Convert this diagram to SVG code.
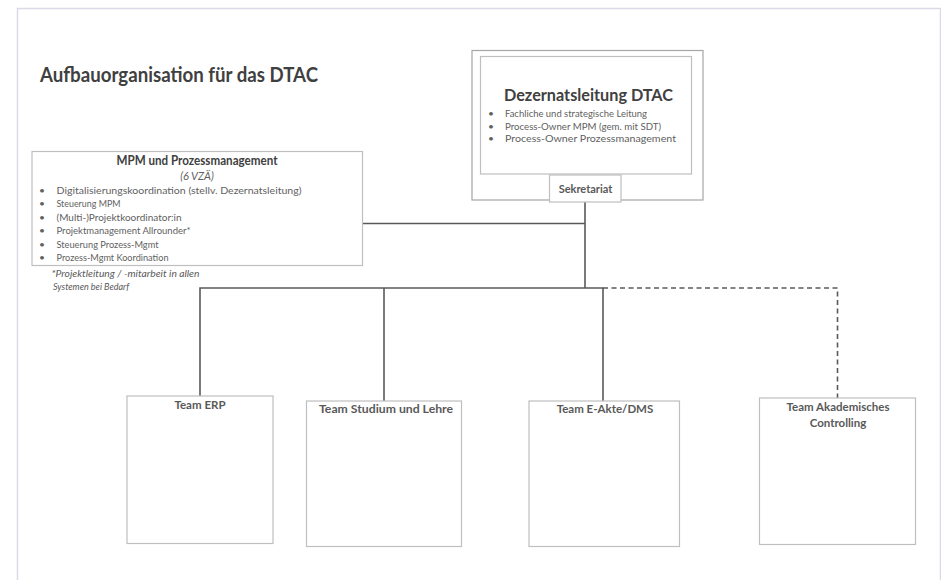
<svg xmlns="http://www.w3.org/2000/svg" width="941" height="580" viewBox="0 0 941 580">
<style>
.frame{fill:none;stroke:#d9dce8;stroke-width:1.5}
.box{fill:#fff;stroke:#bfbfbf;stroke-width:1.2}
.obox{fill:#fff;stroke:#a6a6a6;stroke-width:1.2}
.conn{fill:none;stroke:#595959;stroke-width:1.6}
.dash{stroke-dasharray:5 3.5}
text{font-family:Lato,"Open Sans","Liberation Sans",sans-serif}
.title{font-size:20px;font-weight:bold;fill:#404040}
.h1{font-size:17px;font-weight:bold;fill:#404040}
.hb{font-size:12.5px;font-weight:bold;fill:#404040}
.lbl{font-size:11.5px;font-weight:bold;fill:#595959}
.bul{font-size:10.3px;fill:#5f5f5f}
.it{font-style:italic}
.note{font-size:9px;font-style:italic;fill:#595959}
</style>
<rect width="941" height="580" fill="#fff"/>
<path class="frame" d="M17.5,595 V8.5 H940.5 V595"/>
<text class="title" x="40" y="82" textLength="278" lengthAdjust="spacingAndGlyphs">Aufbauorganisation für das DTAC</text>

<g id="connectors">
<path class="conn" d="M585,202 V288"/>
<path class="conn" d="M362,223.5 H585"/>
<path class="conn" d="M200,396 V288 H603 V401"/>
<path class="conn" d="M384,288 V401"/>
<path class="conn dash" d="M603,288 H837.5 V398"/>
</g>

<g id="dezernatsleitung">
<rect class="obox" x="472" y="50.5" width="231" height="149.5"/>
<rect class="box" x="480.5" y="56.5" width="211" height="117.5"/>
<text class="h1" x="504" y="101" textLength="169" lengthAdjust="spacingAndGlyphs">Dezernatsleitung DTAC</text>
<g class="bul">
<text x="488" y="117">•</text><text x="505" y="117" textLength="142" lengthAdjust="spacingAndGlyphs">Fachliche und strategische Leitung</text>
<text x="488" y="129.5">•</text><text x="505" y="129.5" textLength="156" lengthAdjust="spacingAndGlyphs">Process-Owner MPM (gem. mit SDT)</text>
<text x="488" y="142">•</text><text x="505" y="142" textLength="171" lengthAdjust="spacingAndGlyphs">Process-Owner Prozessmanagement</text>
</g>
</g>

<g id="sekretariat">
<rect class="box" x="549.5" y="175" width="71.5" height="27"/>
<text class="lbl" x="585.5" y="193" text-anchor="middle" style="font-size:11px">Sekretariat</text>
</g>

<g id="mpm">
<rect class="box" x="32" y="151.5" width="330.5" height="114"/>
<text class="hb" x="197" y="164.5" text-anchor="middle" textLength="161" lengthAdjust="spacingAndGlyphs">MPM und Prozessmanagement</text>
<text class="bul it" x="197" y="180" text-anchor="middle" style="font-size:11px">(6 VZÄ)</text>
<g class="bul">
<text x="39" y="193.5">•</text><text x="56.5" y="193.5" textLength="245" lengthAdjust="spacingAndGlyphs">Digitalisierungskoordination (stellv. Dezernatsleitung)</text>
<text x="39" y="207">•</text><text x="56.5" y="207" textLength="64" lengthAdjust="spacingAndGlyphs">Steuerung MPM</text>
<text x="39" y="220.5">•</text><text x="56.5" y="220.5" textLength="125" lengthAdjust="spacingAndGlyphs">(Multi-)Projektkoordinator:in</text>
<text x="39" y="234">•</text><text x="56.5" y="234" textLength="134" lengthAdjust="spacingAndGlyphs">Projektmanagement Allrounder*</text>
<text x="39" y="247.5">•</text><text x="56.5" y="247.5" textLength="102" lengthAdjust="spacingAndGlyphs">Steuerung Prozess-Mgmt</text>
<text x="39" y="261">•</text><text x="56.5" y="261" textLength="112" lengthAdjust="spacingAndGlyphs">Prozess-Mgmt Koordination</text>
</g>
<text class="note" x="51.5" y="276.5" textLength="148" lengthAdjust="spacingAndGlyphs">*Projektleitung / -mitarbeit in allen</text>
<text class="note" x="53" y="289.5">Systemen bei Bedarf</text>
</g>

<g id="team-erp">
<rect class="box" x="127" y="396" width="146" height="147.5"/>
<text class="lbl" x="200" y="408.5" text-anchor="middle">Team ERP</text>
</g>
<g id="team-studium">
<rect class="box" x="306.5" y="401" width="155" height="145.5"/>
<text class="lbl" x="386" y="413" text-anchor="middle" textLength="134" lengthAdjust="spacingAndGlyphs">Team Studium und Lehre</text>
</g>
<g id="team-eakte">
<rect class="box" x="529" y="401" width="150.5" height="145.5"/>
<text class="lbl" x="605" y="413" text-anchor="middle">Team E-Akte/DMS</text>
</g>
<g id="team-controlling">
<rect class="box" x="759.5" y="398" width="156" height="146.5"/>
<text class="lbl" x="838" y="411" text-anchor="middle">Team Akademisches</text>
<text class="lbl" x="838" y="426.5" text-anchor="middle">Controlling</text>
</g>
</svg>
